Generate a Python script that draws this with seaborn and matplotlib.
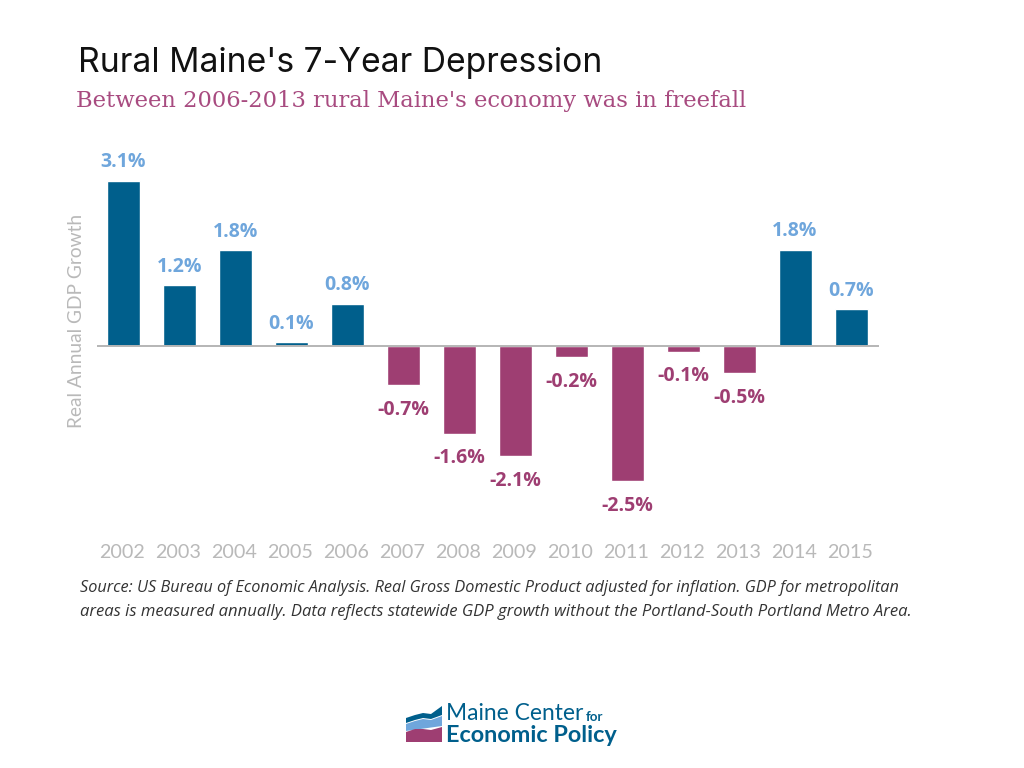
import numpy as np
import pandas as pd
import seaborn as sns
import matplotlib.pyplot as plt

years = ['2002', '2003', '2004', '2005', '2006', '2007', '2008', '2009',
         '2010', '2011', '2012', '2013', '2014', '2015']
# bar heights, the printed labels are rounded
growth = [3.1, 1.15, 1.8, 0.08, 0.8, -0.73, -1.63, -2.05, -0.2, -2.52, -0.1, -0.5, 1.81, 0.69]
labels = ['3.1%', '1.2%', '1.8%', '0.1%', '0.8%', '-0.7%', '-1.6%', '-2.1%',
          '-0.2%', '-2.5%', '-0.1%', '-0.5%', '1.8%', '0.7%']

title = "Rural Maine's 7-Year Depression"
subtitle = "Between 2006-2013 rural Maine's economy was in freefall"
source_1 = ("Source: US Bureau of Economic Analysis. Real Gross Domestic Product adjusted for "
            "inflation. GDP for metropolitan")
source_2 = ("areas is measured annually. Data reflects statewide GDP growth without the "
            "Portland-South Portland Metro Area.")

# logo shapes, in pixels of the picture
logo_top_x = [406, 415, 423, 431, 442, 442, 431, 423, 415, 406]
logo_top_y = [718, 715, 713, 714, 706, 715, 719, 718, 720, 723]
logo_mid_x = [406, 415, 423, 431, 442, 442, 406]
logo_mid_y = [724, 721, 719, 720, 716, 726, 731]
logo_low_x = [406, 415, 423, 431, 442, 442, 406]
logo_low_y = [732, 729, 729, 730, 727, 742, 742]

BLUE = '#005f8c'
MAGENTA = '#9e3e72'
LIGHT_BLUE = '#6fa6dc'
GREY = '#b9b9b9'

W, H = 1024, 768

sns.set_style('white')
fig = plt.figure(figsize=(W / 100, H / 100), dpi=100, facecolor='white')

# axes box picked so the zero line lands on the picture's baseline
ax = fig.add_axes([96.5 / W, 1 - 530 / H, (879 - 96.5) / W, 380 / H])

df = pd.DataFrame({'year': years, 'growth': growth})
df['sign'] = np.where(df['growth'] >= 0, 'up', 'down')
sns.barplot(data=df, x='year', y='growth', hue='sign', palette={'up': BLUE, 'down': MAGENTA},
            dodge=False, width=0.59, saturation=1, legend=False, ax=ax)

ax.set_xlim(-0.483, 13.5)
ax.set_ylim(-3.43, 3.67)
sns.despine(ax=ax, left=True, bottom=True)
ax.set_yticks([])
ax.set_xticks([])
ax.set_xlabel('')
ax.set_ylabel('')
ax.patch.set_alpha(0)
ax.axhline(0, color='#b5b5b5', lw=1.4, zorder=5)

for i, (val, lab) in enumerate(zip(growth, labels)):
    if val >= 0:
        ax.annotate(lab, (i, val), xytext=(0, 6), textcoords='offset points', ha='center',
                    va='bottom', color=LIGHT_BLUE, fontsize=14, fontweight='bold', family='Open Sans')
    else:
        ax.annotate(lab, (i, val), xytext=(0, -10.5), textcoords='offset points', ha='center',
                    va='top', color=MAGENTA, fontsize=14, fontweight='bold', family='Open Sans')
    ax.annotate(years[i], (i, 0), xycoords=('data', 'figure fraction'), xytext=(-1, 1 - 553 / H),
                textcoords=('offset points', 'figure fraction'), ha='center', va='center',
                color=GREY, fontsize=14.2, family='Lato')

fig.text(78 / W, 1 - 63 / H, title, fontsize=24.2, color='#111111', family='Inter', va='center')
fig.text(76 / W, 1 - 100.5 / H, subtitle, fontsize=16.25, color='#a84b80', family='DejaVu Serif', va='center')
fig.text(76.5 / W, 1 - 321 / H, 'Real Annual GDP Growth', rotation=90, fontsize=13.8, color=GREY,
         family='Lato', ha='center', va='center')
fig.text(80 / W, 1 - 588 / H, source_1, fontsize=11.7, style='italic', color='#333333',
         family='Open Sans', va='center')
fig.text(80 / W, 1 - 612.5 / H, source_2, fontsize=12, style='italic', color='#333333',
         family='Open Sans', va='center')

# logo
logo = fig.add_axes([0, 0, 1, 1], facecolor='none')
logo.set_xlim(0, W)
logo.set_ylim(H, 0)
logo.axis('off')
logo.fill(logo_top_x, logo_top_y, color=BLUE, lw=0)
logo.fill(logo_mid_x, logo_mid_y, color=LIGHT_BLUE, lw=0)
logo.fill(logo_low_x, logo_low_y, color=MAGENTA, lw=0)
logo.text(446, 714, 'Maine Center', fontsize=16.4, color=BLUE, family='Lato', va='center')
logo.text(586, 717, 'for', fontsize=9.5, color=BLUE, family='Lato', fontweight='bold', va='center')
logo.text(446, 735, 'Economic Policy', fontsize=16.9, color=BLUE, family='Lato', fontweight='bold', va='center')

fig.savefig('out.png', dpi=100)
